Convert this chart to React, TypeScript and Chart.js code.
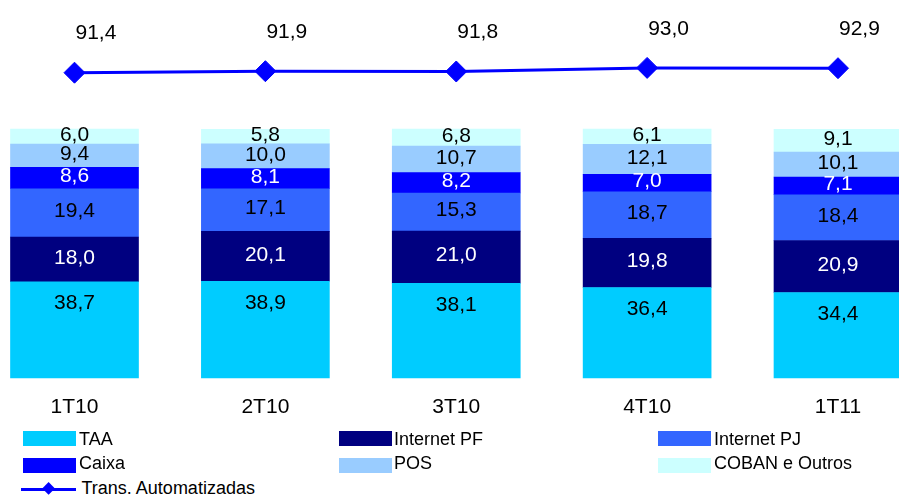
import React, { useEffect, useRef } from "react";
import { Chart, registerables } from "chart.js";

Chart.register(...registerables);

const categories = ["1T10", "2T10", "3T10", "4T10", "1T11"];
const taa = [38.7, 38.9, 38.1, 36.4, 34.4];
const internetPF = [18.0, 20.1, 21.0, 19.8, 20.9];
const internetPJ = [19.4, 17.1, 15.3, 18.7, 18.4];
const caixa = [8.6, 8.1, 8.2, 7.0, 7.1];
const pos = [9.4, 10.0, 10.7, 12.1, 10.1];
const coban = [6.0, 5.8, 6.8, 6.1, 9.1];
const transAutomatizadas = [91.4, 91.9, 91.8, 93.0, 92.9];

const FONT = "'Liberation Sans', Arial, Helvetica, sans-serif";

const barSeries = [
  { label: "TAA", data: taa, color: "#00CCFF", text: "#000000" },
  { label: "Internet PF", data: internetPF, color: "#000080", text: "#FFFFFF" },
  { label: "Internet PJ", data: internetPJ, color: "#3366FF", text: "#000000" },
  { label: "Caixa", data: caixa, color: "#0000FF", text: "#FFFFFF" },
  { label: "POS", data: pos, color: "#99CCFF", text: "#000000" },
  { label: "COBAN e Outros", data: coban, color: "#CCFFFF", text: "#000000" },
];

const fmt = (v: number) => v.toFixed(1).replace(".", ",");

const labelPlugin = {
  id: "valueLabels",
  afterDatasetsDraw(chart: any) {
    const ctx = chart.ctx;
    ctx.save();
    ctx.font = `21px ${FONT}`;
    ctx.textBaseline = "middle";
    chart.data.datasets.forEach((ds: any, di: number) => {
      const meta = chart.getDatasetMeta(di);
      if (ds.type === "line") {
        ctx.textAlign = "left";
        ctx.fillStyle = "#000000";
        meta.data.forEach((pt: any, i: number) => {
          ctx.fillText(fmt(ds.data[i]), pt.x + 1, pt.y - 39);
        });
      } else {
        ctx.textAlign = "center";
        ctx.fillStyle = ds.labelColor;
        meta.data.forEach((bar: any, i: number) => {
          const top = Math.min(bar.y, bar.base);
          const bottom = Math.max(bar.y, bar.base);
          const y = di === 1 ? top + 21.5 : (top + bottom) / 2 - 1.5;
          ctx.fillText(fmt(ds.data[i]), bar.x, y);
        });
      }
    });
    ctx.restore();
  },
};

export default function App() {
  const canvasRef = useRef<HTMLCanvasElement | null>(null);

  useEffect(() => {
    if (!canvasRef.current) return;
    const chart = new Chart(canvasRef.current, {
      type: "bar",
      data: {
        labels: categories,
        datasets: [
          {
            type: "line",
            label: "Trans. Automatizadas",
            data: transAutomatizadas,
            yAxisID: "y2",
            borderColor: "#0000FF",
            backgroundColor: "#0000FF",
            borderWidth: 3,
            pointStyle: "rectRot",
            pointRadius: 10.5,
            pointBorderWidth: 1,
            pointBorderColor: "#0000FF",
            pointBackgroundColor: "#0000FF",
            tension: 0,
            clip: false,
            order: 0,
          } as any,
          ...barSeries.map((s) => ({
            type: "bar",
            label: s.label,
            data: s.data,
            backgroundColor: s.color,
            borderWidth: 0,
            barThickness: 128,
            yAxisID: "y",
            clip: false,
            order: 1,
            labelColor: s.text,
          })),
        ] as any,
      },
      options: {
        responsive: false,
        animation: false,
        layout: { padding: { left: 74.5, right: 61, top: 5, bottom: 0 } },
        plugins: {
          legend: { display: false },
          tooltip: { enabled: false },
        },
        scales: {
          x: {
            type: "category",
            stacked: true,
            offset: false,
            grid: { display: false, drawTicks: false },
            border: { display: false },
            ticks: {
              color: "#000000",
              font: { family: FONT, size: 21 },
              padding: 17,
              autoSkip: false,
              maxRotation: 0,
            },
            afterFit(scale: any) {
              scale.height = 52;
            },
          },
          y: {
            display: false,
            stacked: true,
            min: 0,
            max: 147.4,
          },
          y2: {
            display: false,
            min: -10.37,
            max: 111.8,
          },
        },
      } as any,
      plugins: [labelPlugin],
    });
    return () => chart.destroy();
  }, []);

  const sw = (x: number, y: number, color: string) => (
    <div
      style={{
        position: "absolute",
        left: x,
        top: y,
        width: 53,
        height: 15,
        background: color,
      }}
    />
  );
  const txt = (x: number, cy: number, t: string) => (
    <div
      style={{
        position: "absolute",
        left: x,
        top: cy - 11,
        height: 22,
        lineHeight: "22px",
        fontSize: 18,
        fontFamily: FONT,
        color: "#000",
        whiteSpace: "nowrap",
      }}
    >
      {t}
    </div>
  );

  return (
    <div
      style={{
        position: "absolute",
        left: 0,
        top: 0,
        width: 899,
        height: 497,
        background: "#ffffff",
        overflow: "hidden",
      }}
    >
      <canvas
        ref={canvasRef}
        width={899}
        height={430}
        style={{ display: "block", width: 899, height: 430 }}
      />
      {sw(23, 431, barSeries[0].color)}
      {txt(79, 438.5, barSeries[0].label)}
      {sw(339, 431, barSeries[1].color)}
      {txt(394, 438.5, barSeries[1].label)}
      {sw(658, 431, barSeries[2].color)}
      {txt(714, 438.5, barSeries[2].label)}
      {sw(23, 457.5, barSeries[3].color)}
      {txt(79, 463, barSeries[3].label)}
      {sw(339, 457.5, barSeries[4].color)}
      {txt(394, 463, barSeries[4].label)}
      {sw(658, 457.5, barSeries[5].color)}
      {txt(714, 463, barSeries[5].label)}
      <div
        style={{
          position: "absolute",
          left: 21,
          top: 487.5,
          width: 55,
          height: 3,
          background: "#0000FF",
        }}
      />
      <div
        style={{
          position: "absolute",
          left: 49 - 4.6,
          top: 489 - 4.6,
          width: 9.2,
          height: 9.2,
          background: "#0000FF",
          transform: "rotate(45deg)",
        }}
      />
      {txt(81.5, 487.5, "Trans. Automatizadas")}
    </div>
  );
}
